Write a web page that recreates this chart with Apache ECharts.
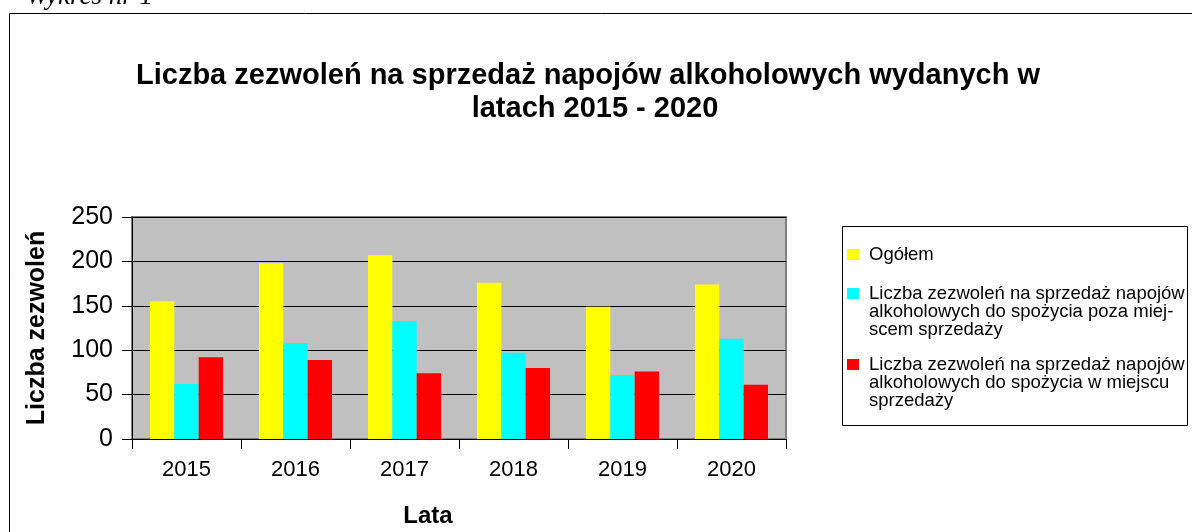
<!DOCTYPE html>
<html>
<head>
<meta charset="utf-8">
<style>
html,body{margin:0;padding:0;background:#fff;}
#chart{width:1192px;height:532px;}
</style>
<script src="https://cdn.jsdelivr.net/npm/echarts@6/dist/echarts.min.js"></script>
</head>
<body>
<div id="chart"></div>
<script>
var categories = ['2015', '2016', '2017', '2018', '2019', '2020'];
var seriesNames = [
  'Ogółem',
  'Liczba zezwoleń na sprzedaż napojów alkoholowych do spożycia poza miejscem sprzedaży',
  'Liczba zezwoleń na sprzedaż napojów alkoholowych do spożycia w miejscu sprzedaży'
];
var legendLabels = [
  'Ogółem',
  'Liczba zezwoleń na sprzedaż napojów\nalkoholowych do spożycia poza miej-\nscem sprzedaży',
  'Liczba zezwoleń na sprzedaż napojów\nalkoholowych do spożycia w miejscu\nsprzedaży'
];
var ogolem = [155, 198, 207, 176, 149, 174];
var pozaMiejscem = [62, 108, 133, 97, 72, 113];
var wMiejscu = [92, 89, 74, 80, 76, 61];
var yTicks = [0, 50, 100, 150, 200, 250];

var titleLines = ['Liczba zezwoleń na sprzedaż napojów alkoholowych wydanych w', 'latach 2015 - 2020'];
var yName = 'Liczba zezwoleń';
var xName = 'Lata';
var captionText = 'Wykres nr 1';

var FONT = '"Liberation Sans", Arial, sans-serif';
var colors = ['#FFFF00', '#00FFFF', '#FF0000'];
var seriesData = [ogolem, pozaMiejscem, wMiejscu];

var chart = echarts.init(document.getElementById('chart'), null, {renderer: 'canvas'});

function legendFormatter(name) {
  var i = seriesNames.indexOf(name);
  return i >= 0 ? legendLabels[i] : name;
}
var legendText = {fontFamily: FONT, fontSize: 18.5, lineHeight: 18, color: '#000'};
// square marker at the top of the icon box, plus an invisible point to set the box size
var iconOne = 'path://M0,0L12,0L12,11L0,11Z M16.99,0L17,0';
var iconThree = 'path://M0,0L12,0L12,11L0,11Z M16.99,47L17,47';

var titleStyle = {fontFamily: FONT, fontSize: 29, fontWeight: 'bold', color: '#000'};

var option = {
  animation: false,
  backgroundColor: '#ffffff',
  textStyle: {fontFamily: FONT, color: '#000'},
  title: [
    {text: titleLines[0], left: 588, top: 61, textAlign: 'center', padding: 0, textStyle: titleStyle},
    {text: titleLines[1], left: 595, top: 94, textAlign: 'center', padding: 0, textStyle: titleStyle}
  ],
  graphic: [
    {
      type: 'rect',
      shape: {x: 9.5, y: 13.5, width: 1200, height: 600},
      style: {fill: 'none', stroke: '#000', lineWidth: 1},
      silent: true
    },
    {
      type: 'rect',
      shape: {x: 842.5, y: 226.5, width: 345, height: 199},
      style: {fill: 'none', stroke: '#000', lineWidth: 1},
      silent: true
    },
    {
      type: 'text',
      x: 26,
      y: 10,
      style: {
        text: captionText,
        font: 'italic 27px "Liberation Serif", "Times New Roman", serif',
        fill: '#000',
        verticalAlign: 'bottom'
      },
      silent: true
    }
  ],
  legend: [
    {
      orient: 'vertical',
      left: 847,
      top: 245,
      padding: 0,
      itemWidth: 17,
      itemHeight: 11,
      icon: iconOne,
      selectedMode: false,
      textStyle: legendText,
      formatter: legendFormatter,
      data: [seriesNames[0]]
    },
    {
      orient: 'vertical',
      left: 847,
      top: 284,
      padding: 0,
      itemGap: 16,
      itemWidth: 17,
      itemHeight: 47,
      icon: iconThree,
      selectedMode: false,
      textStyle: legendText,
      formatter: legendFormatter,
      data: [seriesNames[1], seriesNames[2]]
    }
  ],
  grid: {
    left: 132,
    top: 217,
    right: 406,
    bottom: 93,
    show: true,
    backgroundColor: '#C0C0C0',
    borderColor: '#808080',
    borderWidth: 2,
    containLabel: false
  },
  xAxis: {
    type: 'category',
    data: categories,
    name: xName,
    nameLocation: 'middle',
    nameGap: 65,
    nameTextStyle: {fontFamily: FONT, fontSize: 24, fontWeight: 'bold', color: '#000', padding: [0, 62, 0, 0]},
    axisLine: {show: true, lineStyle: {color: '#000', width: 1}},
    axisTick: {show: true, length: 10, alignWithLabel: false, lineStyle: {color: '#000'}},
    axisLabel: {fontFamily: FONT, fontSize: 22, color: '#000', margin: 20},
    splitLine: {show: false}
  },
  yAxis: {
    type: 'value',
    min: yTicks[0],
    max: yTicks[yTicks.length - 1],
    interval: yTicks[1] - yTicks[0],
    name: yName,
    nameLocation: 'middle',
    nameGap: 82,
    nameRotate: 90,
    nameTextStyle: {fontFamily: FONT, fontSize: 25, fontWeight: 'bold', color: '#000'},
    axisLine: {show: true, lineStyle: {color: '#000', width: 1}},
    axisTick: {show: true, length: 10, lineStyle: {color: '#000'}},
    axisLabel: {fontFamily: FONT, fontSize: 25, color: '#000', margin: 19},
    splitLine: {show: true, lineStyle: {color: '#000', width: 1}}
  },
  series: seriesNames.map(function (n, i) {
    return {
      name: n,
      type: 'bar',
      data: seriesData[i],
      barGap: '0%',
      barCategoryGap: '33%',
      itemStyle: {color: colors[i]},
      emphasis: {disabled: true}
    };
  })
};
chart.setOption(option);
</script>
</body>
</html>
